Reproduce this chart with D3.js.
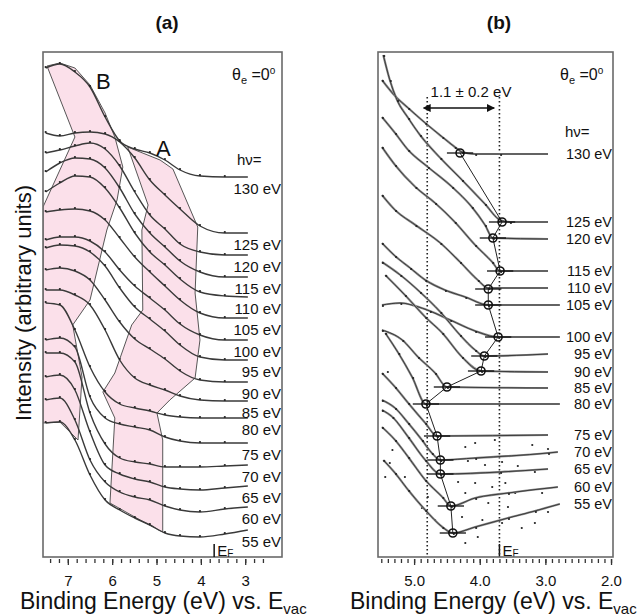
<!DOCTYPE html>
<html><head><meta charset="utf-8">
<script src="https://cdn.jsdelivr.net/npm/d3@7"></script>
<style>body{margin:0;background:#fff} text{font-family:"Liberation Sans",Arial,sans-serif;fill:#111}</style>
</head><body><svg id="c" width="638" height="616"></svg>
<script>
// ---------- DATA ----------
const photonEnergies = [130,125,120,115,110,105,100,95,90,85,80,75,70,65,60,55];
// panel (a): binding energies (eV) sampled for every spectrum
const aEnergies = [7.50,7.18,6.84,6.50,6.16,5.83,5.49,5.15,4.81,4.47,4.02,3.46,2.94];
// panel (a): stacked intensities (arb. units), one row per photon energy
const aIntensity = [
 [489,493,485,470,440,416,408,404,397,387,381,380,380],
 [424,421,424,425,423,415,399,377,362,348,331,324,324],
 [404,407,411,414,408,391,365,342,328,313,305,302,302],
 [385,394,399,398,389,369,343,324,310,296,285,280,280],
 [365,374,381,380,369,349,324,305,292,278,265,261,260],
 [345,347,348,346,337,319,300,285,271,257,244,239,239],
 [317,320,320,316,305,287,271,259,247,233,222,217,217],
 [309,312,311,305,291,269,250,238,226,212,200,197,197],
 [287,289,286,277,257,235,218,208,198,186,177,175,175],
 [267,267,262,252,227,197,179,172,167,161,157,156,156],
 [254,252,227,190,165,153,149,146,142,140,139,139,139],
 [217,219,210,160,139,133,130,127,120,116,114,114,114],
 [204,204,195,144,113,99,95,93,90,90,90,91,92],
 [180,182,167,125,92,83,78,75,70,68,67,69,71],
 [157,159,137,97,75,65,60,57,51,47,45,48,50],
 [134,135,117,82,57,47,39,32,24,21,20,23,27]
];
// shaded bands in (a): vertices as [binding energy, intensity]
const bandB = [[7.47,491],[7.18,494],[6.84,489],[6.50,472],[6.16,444],[5.94,420],[5.76,390],[5.89,357],[6.12,327],[6.50,257],[6.89,232],[6.68,180],[6.77,117],[7.18,135],[7.56,134],[7.56,350],[6.84,420]];
const bandA = [[5.65,410],[5.37,405],[4.92,397],[4.63,388],[4.07,330],[4.13,264],[4.02,217],[4.13,179],[4.70,157],[4.99,144],[4.86,117],[4.86,25],[5.37,37],[6.05,54],[5.94,139],[6.21,165],[5.94,184],[5.56,232],[5.31,247],[5.33,327],[5.19,352]];

// panel (b): spectra near the threshold, energies and intensities per photon energy
const bEnergies = [
 [5.49,5.29,5.09,4.83,4.57,4.38,4.27,4.07,3.69,2.96],
 [5.47,5.37,5.26,5.09,4.91,4.60,4.27,3.92,3.69,3.54,2.96],
 [5.49,5.29,5.09,4.79,4.42,4.12,3.92,3.80,2.96],
 [5.49,5.29,4.98,4.68,4.38,4.07,3.81,3.69,2.96],
 [5.49,5.29,4.98,4.60,4.30,4.03,3.87,2.96],
 [5.49,5.29,5.06,4.83,4.53,4.22,3.87,2.78],
 [5.49,5.21,4.98,4.76,4.45,4.07,3.72,2.78],
 [5.49,5.21,4.91,4.60,4.30,4.07,3.93,2.96],
 [5.44,5.14,4.83,4.57,4.27,3.98,2.96],
 [5.49,5.18,4.94,4.68,4.50,2.96],
 [5.44,5.24,5.03,4.82,2.78],
 [5.49,5.29,5.09,4.83,4.65,2.96],
 [5.49,5.29,5.09,4.88,4.73,4.60,4.07,2.96,2.81],
 [5.49,5.33,5.09,4.83,4.60,3.69,2.96],
 [5.49,5.29,5.09,4.83,4.57,4.44,4.07,3.57,2.81],
 [5.47,5.29,5.09,4.83,4.57,4.41,4.07,3.57,3.16,2.78]
];
const bIntensity = [
 [477,461,449,434,420,410,405,403,403,403],
 [502,477,457,439,422,399,377,353,337,335,335],
 [440,424,407,390,370,350,332,319,318],
 [410,392,370,354,335,312,295,286,286],
 [362,347,332,314,295,277,269,269],
 [314,301,289,277,267,260,252,252],
 [252,254,251,246,237,226,220,220],
 [295,282,265,245,222,207,201,203],
 [282,262,240,224,200,186,185],
 [227,217,200,184,170,169],
 [224,204,180,153,153],
 [184,170,154,134,121,122],
 [157,149,134,117,104,97,99,104,105],
 [147,140,120,97,83,85,88],
 [130,117,100,77,60,51,59,64,70],
 [97,84,67,47,30,24,30,39,46,53]
];
// onset positions (circles) and their uncertainty
const onsetEnergy = [4.30,3.66,3.80,3.69,3.87,3.87,3.72,3.93,3.98,4.50,4.82,4.65,4.60,4.60,4.44,4.41];
const onsetIntensity = [404,335,319,286,268,252,220,201,186,170,153,121,97,83,51,24];
const onsetError = [0.2,0.2,0.2,0.2,0.2,0.2,0.2,0.2,0.2,0.2,0.2,0.2,0.2,0.2,0.2,0.2];
// scattered raw points of the low photon energy spectra in (b)
const bScatter = [[5.40,185],[4.22,110],[4.07,114],[3.77,117],[3.20,112],[2.96,108],[4.18,96],[3.92,92],[3.66,95],[3.42,91],[4.33,75],[4.07,74],[3.81,70],[3.61,74],[3.16,85],[4.22,64],[3.87,54],[3.46,64],[3.05,64],[4.27,40],[3.96,37],[3.66,34],[3.36,29],[2.96,45],[4.68,37],[4.03,20],[4.22,14],[4.79,60],[5.14,80],[5.33,107],[5.37,94],[5.44,80],[4.88,49],[3.57,50],[3.16,34]];
const fermiLevel = 3.7;
const shiftBounds = [4.8, 3.7];
const aMajorTicks = [7,6,5,4,3];
const bMajorTicks = [5.0,4.0,3.0,2.0];

// ---------- LAYOUT ----------
const svg = d3.select('#c');
const fA = {l:43, r:282, t:52, b:557};
const fB = {l:378, r:613, t:52, b:557};
const xA = d3.scaleLinear().domain([7.56, 2.17]).range([fA.l, fA.r]);
const xB = d3.scaleLinear().domain([5.55, 1.97]).range([fB.l, fB.r]);
const yS = d3.scaleLinear().domain([0, 505]).range([557, 52]);

const defs = svg.append('defs');
defs.append('clipPath').attr('id','clipA').append('rect').attr('x',fA.l).attr('y',fA.t).attr('width',fA.r-fA.l).attr('height',fA.b-fA.t);
defs.append('clipPath').attr('id','clipB').append('rect').attr('x',fB.l).attr('y',fB.t).attr('width',fB.r-fB.l).attr('height',fB.b-fB.t);
['s','e'].forEach(k=>{
  defs.append('marker').attr('id','arr'+k).attr('viewBox','0 0 10 10').attr('refX',k==='e'?9:1).attr('refY',5)
    .attr('markerWidth',5).attr('markerHeight',5).attr('orient','auto-start-reverse')
    .append('path').attr('d','M0,0L10,5L0,10z').attr('fill','#111');
});

// ---------- PANEL A ----------
const gA = svg.append('g');
const cA = gA.append('g').attr('clip-path','url(#clipA)');
const polyLine = d3.line().x(d=>xA(d[0])).y(d=>yS(d[1])).curve(d3.curveLinearClosed);
[bandB, bandA].forEach(b=>{
  cA.append('path').attr('d',polyLine(b)).attr('fill','#fbe0ea').attr('stroke','#444').attr('stroke-width',0.9);
});
const lineA = d3.line().x(d=>xA(d[0])).y(d=>yS(d[1])).curve(d3.curveMonotoneX);
aIntensity.forEach((row,i)=>{
  const pts = aEnergies.map((e,j)=>[e,row[j]]);
  cA.append('path').attr('d',lineA(pts)).attr('fill','none').attr('stroke','#3a3a3a').attr('stroke-width',1.4);
  cA.selectAll(null).data(pts.slice(0,-1)).enter().append('circle')
    .attr('cx',d=>xA(d[0])).attr('cy',d=>yS(d[1])-1).attr('r',1.1).attr('fill','#222');
  const last = pts[pts.length-1];
  gA.append('text').attr('x',281).attr('y',yS(last[1])+13).attr('dominant-baseline','middle')
    .attr('text-anchor','end').attr('font-size',15).text(photonEnergies[i]+' eV');
});
gA.append('rect').attr('x',fA.l).attr('y',fA.t).attr('width',fA.r-fA.l).attr('height',fA.b-fA.t)
  .attr('fill','none').attr('stroke','#6a6a6a').attr('stroke-width',1.6);
gA.append('text').attr('x',96).attr('y',89).attr('font-size',22).text('B');
gA.append('text').attr('x',156).attr('y',156).attr('font-size',22).text('A');
gA.append('text').attr('x',237).attr('y',165).attr('font-size',15).text('hν=');

function thetaLabel(x,y){
  const t = svg.append('text').attr('x',x).attr('y',y).attr('font-size',16);
  t.append('tspan').text('θ');
  t.append('tspan').attr('font-size',11).attr('dy',4).text('e');
  t.append('tspan').attr('dy',-4).text(' =0');
  t.append('tspan').attr('font-size',10).attr('dy',-6).text('o');
}
thetaLabel(232,80);
thetaLabel(560,80);

// axes
function drawAxis(scale, majors, minors, fmt, top){
  const g1 = svg.append('g').attr('transform',`translate(0,${top})`)
    .call(d3.axisBottom(scale).tickValues(minors).tickSize(4).tickFormat(''));
  const g2 = svg.append('g').attr('transform',`translate(0,${top})`)
    .call(d3.axisBottom(scale).tickValues(majors).tickSize(6).tickPadding(10).tickFormat(fmt));
  [g1,g2].forEach(g=>{ g.select('.domain').remove(); g.selectAll('line').attr('stroke','#333').attr('stroke-width',1.3);
    g.selectAll('text').attr('font-size',15).attr('font-family','"Liberation Sans",Arial,sans-serif').attr('fill','#111'); });
}
drawAxis(xA, aMajorTicks, d3.range(74,25,-2).map(v=>v/10), d3.format('d'), 559);
drawAxis(xB, bMajorTicks, d3.range(55,19,-1).map(v=>v/10), d3.format('.1f'), 559);

// E_F markers
function fermi(scale){
  const x = scale(fermiLevel);
  svg.append('line').attr('x1',x).attr('x2',x).attr('y1',544).attr('y2',557).attr('stroke','#111').attr('stroke-width',1.5);
  const t = svg.append('text').attr('x',x+3).attr('y',556).attr('font-size',15);
  t.append('tspan').text('E');
  t.append('tspan').attr('font-size',10).attr('dy',1).text('F');
}
fermi(xA); fermi(xB);

// ---------- PANEL B ----------
const cB = svg.append('g').attr('clip-path','url(#clipB)');
shiftBounds.forEach(e=>{
  cB.append('line').attr('x1',xB(e)).attr('x2',xB(e)).attr('y1',97).attr('y2',557)
    .attr('stroke','#222').attr('stroke-width',1.6).attr('stroke-dasharray','1.6,2.4');
});
cB.selectAll(null).data(bScatter).enter().append('circle')
  .attr('cx',d=>xB(d[0])).attr('cy',d=>yS(d[1])).attr('r',1.1).attr('fill','#222');
const lineB = d3.line().x(d=>xB(d[0])).y(d=>yS(d[1])).curve(d3.curveMonotoneX);
bEnergies.forEach((row,i)=>{
  const pts = row.map((e,j)=>[e,bIntensity[i][j]]);
  cB.append('path').attr('d',lineB(pts)).attr('fill','none').attr('stroke','#8a8a8a').attr('stroke-width',2.2);
  cB.append('path').attr('d',lineB(pts)).attr('fill','none').attr('stroke','#333').attr('stroke-width',0.9);
  cB.selectAll(null).data(pts.slice(0,-1)).enter().append('circle')
    .attr('cx',d=>xB(d[0])+1).attr('cy',d=>yS(d[1])+1).attr('r',1.1).attr('fill','#222');
  const last = pts[pts.length-1];
  svg.append('text').attr('x',612).attr('y',yS(last[1])+1).attr('dominant-baseline','middle')
    .attr('text-anchor','end').attr('font-size',14.5).text(photonEnergies[i]+' eV');
});
const onsets = onsetEnergy.map((e,i)=>[e,onsetIntensity[i],onsetError[i]]);
cB.append('path').attr('d',d3.line().x(d=>xB(d[0])).y(d=>yS(d[1]))(onsets))
  .attr('fill','none').attr('stroke','#222').attr('stroke-width',1);
cB.selectAll(null).data(onsets).enter().append('line')
  .attr('x1',d=>xB(d[0]+d[2])).attr('x2',d=>xB(d[0]-d[2])).attr('y1',d=>yS(d[1])).attr('y2',d=>yS(d[1]))
  .attr('stroke','#111').attr('stroke-width',1.3);
cB.selectAll(null).data(onsets).enter().append('circle')
  .attr('cx',d=>xB(d[0])).attr('cy',d=>yS(d[1])).attr('r',4).attr('fill','none').attr('stroke','#111').attr('stroke-width',1.6);
svg.append('line').attr('x1',xB(4.76)).attr('x2',xB(3.78)).attr('y1',108).attr('y2',108)
  .attr('stroke','#111').attr('stroke-width',1.6).attr('marker-start','url(#arrs)').attr('marker-end','url(#arre)');
svg.append('text').attr('x',471).attr('y',97).attr('text-anchor','middle').attr('font-size',15).text('1.1 ± 0.2 eV');
svg.append('text').attr('x',565).attr('y',137).attr('font-size',15).text('hν=');
svg.append('rect').attr('x',fB.l).attr('y',fB.t).attr('width',fB.r-fB.l).attr('height',fB.b-fB.t)
  .attr('fill','none').attr('stroke','#6a6a6a').attr('stroke-width',1.6);

// ---------- TITLES ----------
svg.append('text').attr('x',167).attr('y',29).attr('text-anchor','middle').attr('font-size',19).attr('font-weight','bold').text('(a)');
svg.append('text').attr('x',499).attr('y',29).attr('text-anchor','middle').attr('font-size',19).attr('font-weight','bold').text('(b)');
function xTitle(x){
  const t = svg.append('text').attr('x',x).attr('y',609).attr('font-size',23);
  t.append('tspan').text('Binding Energy (eV) vs. E');
  t.append('tspan').attr('font-size',15).attr('dy',5).text('vac');
}
xTitle(20); xTitle(350);
svg.append('text').attr('transform','translate(31,303) rotate(-90)').attr('text-anchor','middle')
  .attr('font-size',22).text('Intensity (arbitrary units)');
</script></body></html>
